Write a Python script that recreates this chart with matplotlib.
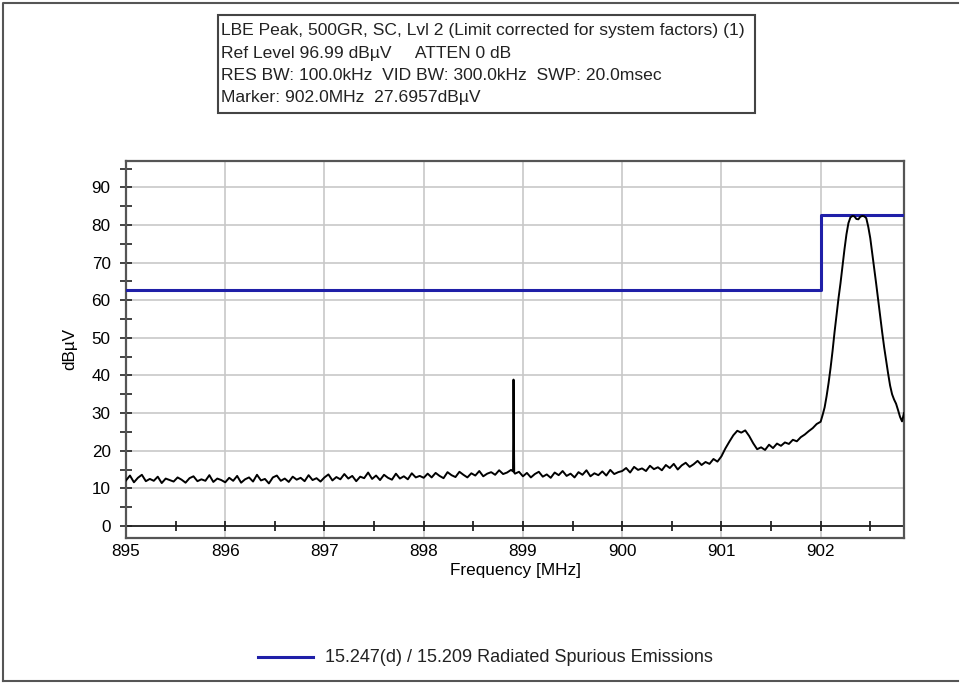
import numpy as np
import matplotlib
matplotlib.use('Agg')
import matplotlib.pyplot as plt
from matplotlib.lines import Line2D
from matplotlib.patches import Rectangle

plt.rcParams['font.family'] = ['Liberation Sans', 'DejaVu Sans']

# sweep levels (dBuV), 0.04 MHz steps from 895.00 to 901.96
floor_dbuv = [
    12.1, 13.4, 11.6, 12.8, 13.6, 11.9, 12.5, 12.0, 13.1, 11.4, 12.6, 12.2, 11.8, 12.9, 12.3, 11.5, 12.7, 13.2, 11.9, 12.4, 12.0, 13.5, 11.7, 12.6, 12.2,
    11.6, 12.8, 12.0, 13.3, 11.5, 12.4, 12.9, 11.8, 13.6, 12.1, 12.5, 11.3, 12.9, 13.4, 12.0, 12.6, 11.7, 13.1, 12.3, 12.8, 11.9, 13.5, 12.2, 12.7, 11.8,
    12.9, 13.7, 12.1, 13.0, 12.4, 13.8, 12.6, 13.3, 11.9, 13.1, 12.7, 14.2, 12.5, 13.4, 12.2, 13.6, 12.8, 12.3, 13.9, 12.6, 13.2, 12.4, 14.0, 12.9, 13.3,
    12.8, 13.9, 12.9, 14.1, 13.3, 12.7, 14.3, 13.5, 13.0, 14.4, 13.6, 12.9, 14.0, 13.4, 14.6, 13.2, 13.9, 14.3, 13.6, 14.8, 13.8, 14.2, 14.9, 13.9, 14.4,
    13.2, 14.1, 12.9, 13.8, 14.4, 13.1, 13.7, 12.8, 14.2, 13.5, 14.6, 13.3, 13.9, 12.9, 14.3, 13.6, 14.8, 13.2, 14.0, 13.5, 14.5, 13.4, 14.9, 13.8, 14.3,
    14.6, 15.4, 14.2, 15.7, 14.9, 15.3, 14.6, 16.0, 15.1, 15.6, 14.8, 16.2, 15.4, 16.5, 15.0, 16.1, 16.8, 15.7, 16.4, 17.3, 16.2, 17.0, 16.5, 17.8, 17.1,
    18.5, 20.6, 22.4, 24.1, 25.3, 24.8, 25.4, 23.9, 22.0, 20.4, 20.9, 20.2, 21.6, 20.7, 21.9, 21.3, 22.2, 21.8, 22.9, 22.5, 23.6, 24.3, 25.2, 26.0, 27.1,
]
# carrier, 0.02 MHz steps from 902.00 to 902.84
carrier_dbuv = [
    27.7, 29.5, 31.5, 34.5, 38.0, 42.0, 46.5, 51.5, 56.0, 60.5, 64.5, 69.0, 73.5, 77.5, 80.5,
    82.0, 82.4, 82.3, 81.6, 81.5, 82.2, 82.4, 82.3, 81.8, 79.5, 76.5, 72.5, 68.5, 64.3, 60.0,
    55.8, 51.5, 47.5, 43.9, 40.5, 37.3, 35.0, 33.6, 32.5, 30.8, 29.0, 27.8, 30.0,
]
# narrow spur near 898.9 MHz
spur_mhz = [898.900, 898.905, 898.908, 898.912]
spur_dbuv = [14.5, 38.9, 26.7, 14.2]

# limit line
limit_mhz = [895.0, 902.0, 902.0, 902.84]
limit_dbuv = [62.8, 62.8, 82.7, 82.7]

x_ticks = [895, 896, 897, 898, 899, 900, 901, 902]
y_ticks = [0, 10, 20, 30, 40, 50, 60, 70, 80, 90]

header = ["LBE Peak, 500GR, SC, Lvl 2 (Limit corrected for system factors) (1)",
          "Ref Level 96.99 dB\u00b5V     ATTEN 0 dB",
          "RES BW: 100.0kHz  VID BW: 300.0kHz  SWP: 20.0msec",
          "Marker: 902.0MHz  27.6957dB\u00b5V"]

floor_mhz = 895.0 + 0.04 * np.arange(len(floor_dbuv))
carrier_mhz = 902.0 + 0.02 * np.arange(len(carrier_dbuv))
f = np.concatenate([floor_mhz, carrier_mhz, spur_mhz])
v = np.concatenate([floor_dbuv, carrier_dbuv, spur_dbuv])
order = np.argsort(f, kind='stable')
f, v = f[order], v[order]

W, H = 960, 683
fig = plt.figure(figsize=(9.6, 6.83), dpi=100)
ax = fig.add_axes([126 / W, 1 - 538 / H, (904 - 126) / W, (538 - 161) / H])

ax.set_xlim(895, 902.84)
ax.set_ylim(-3.2, 97)
ax.grid(True, color='#c8c8c8', linewidth=1.2)
ax.set_axisbelow(True)

ax.plot(limit_mhz, limit_dbuv, color='#1f1fa8', linewidth=2.2, zorder=3)
ax.plot(f, v, color='black', linewidth=1.4, zorder=4)

# baseline at 0 dBuV with crossing ticks
ax.axhline(0, color='#222222', linewidth=1.3, zorder=2)
ax.plot(np.arange(895.5, 902.6, 0.5), np.zeros(15), linestyle='none', marker='|',
        markersize=7, color='#222222', markeredgewidth=1.3, zorder=2)

ax.set_xticks(x_ticks)
ax.set_yticks(y_ticks)
ax.set_yticks(np.arange(5, 96, 10), minor=True)
ax.tick_params(axis='x', length=0, pad=4, labelsize=12.3)
ax.tick_params(axis='y', which='both', direction='inout', length=8, width=1.2,
               color='#222222', labelsize=12.3, pad=7)
for s in ax.spines.values():
    s.set_color('#555555')
    s.set_linewidth(1.6)
ax.set_xlabel('Frequency [MHz]', fontsize=12.3, labelpad=3)
ax.set_ylabel('dB\u00b5V', fontsize=12.3, labelpad=10)

# header box
fig.patches.append(Rectangle((218 / W, 1 - 113 / H), (755 - 218) / W, (113 - 15) / H,
                             transform=fig.transFigure, fill=False,
                             edgecolor='#444444', linewidth=1.5))
for i, line in enumerate(header):
    fig.text(221 / W, 1 - (31 + 22.3 * i) / H, line, fontsize=12.6,
             va='center', ha='left', color='#222222')

# legend
fig.lines.append(Line2D([258 / W, 313 / W], [1 - 657 / H, 1 - 657 / H],
                        transform=fig.transFigure, color='#1f1fa8', linewidth=2.2))
fig.text(325 / W, 1 - 657 / H, '15.247(d) / 15.209 Radiated Spurious Emissions',
         fontsize=13, va='center', ha='left', color='#222222')

# outer frame
fig.lines.append(Line2D([3 / W, 3 / W, 958 / W], [1 - 681 / H, 1 - 3 / H, 1 - 3 / H],
                        transform=fig.transFigure, color='#555555', linewidth=1.5))
fig.lines.append(Line2D([3 / W, 958 / W], [1 - 681 / H, 1 - 681 / H],
                        transform=fig.transFigure, color='#555555', linewidth=1.5))

fig.savefig('out.png', dpi=100)
